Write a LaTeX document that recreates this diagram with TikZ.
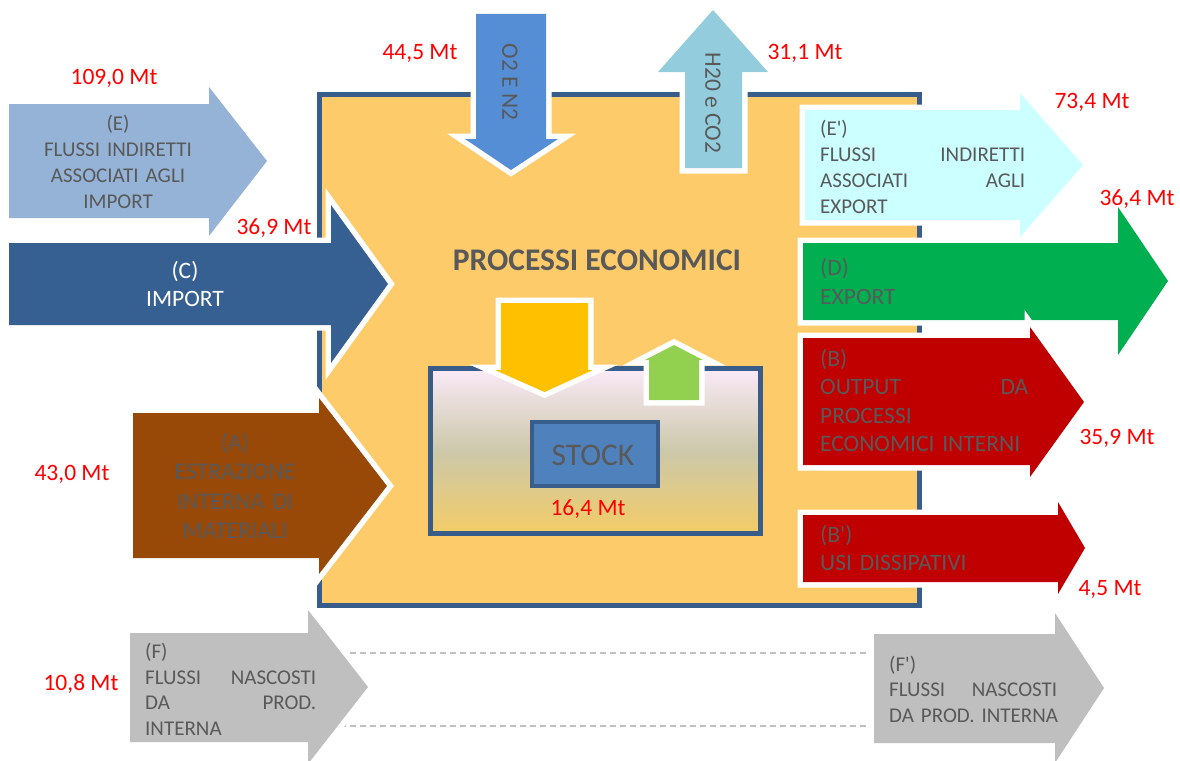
\documentclass[tikz,border=0pt]{standalone}
\usepackage{fontspec}
\setmainfont{Carlito}
\newcommand\fsz[2]{\fontsize{#1pt}{#2pt}\selectfont}
\newcommand\jline[2]{\leavevmode\hbox to #1{#2}}
\newcommand\apo{\textquotesingle}
\definecolor{boxfill}{RGB}{254,203,106}
\definecolor{boxline}{RGB}{56,93,138}
\definecolor{cE}{RGB}{149,179,215}
\definecolor{cC}{RGB}{55,96,146}
\definecolor{cA}{RGB}{152,72,7}
\definecolor{cF}{RGB}{191,191,191}
\definecolor{cO}{RGB}{85,142,213}
\definecolor{cH}{RGB}{147,205,221}
\definecolor{cEp}{RGB}{204,255,255}
\definecolor{cD}{RGB}{0,176,80}
\definecolor{cB}{RGB}{192,0,0}
\definecolor{cY}{RGB}{255,192,0}
\definecolor{cG}{RGB}{146,208,80}
\definecolor{cS}{RGB}{79,129,189}
\definecolor{tgray}{RGB}{89,89,89}
\definecolor{lred}{RGB}{255,0,0}
\definecolor{dgray}{RGB}{192,192,192}
\definecolor{stTop}{RGB}{250,234,248}
\definecolor{stMid}{RGB}{204,200,170}
\definecolor{stBot}{RGB}{243,204,102}
\begin{document}
\begin{tikzpicture}[x=1pt,y=-1pt,
  flow/.style={preaction={draw=white,line width=11pt,miter limit=10},fill=#1},
  lbl/.style={font=\fsz{23.5}{28},text=lred,anchor=base,inner sep=0pt},
  blockc/.style={anchor=base,text width=260pt,align=center,inner sep=0pt},
  blockl/.style={anchor=base west,text width=280pt,align=left,inner sep=0pt},
  rot/.style={rotate=-90,font=\fsz{23.5}{28},text=tgray,inner sep=0pt}]
\useasboundingbox (0,0) rectangle (1180,760);

% main box
\draw[fill=boxfill,draw=boxline,line width=5pt] (319.5,94.5) rectangle (919.5,605.5);

% dashed connectors between F and F'
\coordinate (fa1) at (340,653);
\coordinate (fa2) at (340,726);
\coordinate (fb1) at (874,653);
\coordinate (fb2) at (874,726);
\draw[dgray,line width=1.5pt,dash pattern=on 6pt off 4pt] (fa1) -- (fb1);
\draw[dgray,line width=1.5pt,dash pattern=on 6pt off 4pt] (fa2) -- (fb2);

% left arrows
\path[flow=cE] (9,104) -- (209,104) -- (209,87) -- (267,161) -- (209,236) -- (209,218) -- (9,218) -- cycle;
\path[flow=cC] (9,243) -- (331,243) -- (331,205) -- (388,284) -- (331,363) -- (331,325) -- (9,325) -- cycle;
\path[flow=cA] (133,413) -- (319,413) -- (319,398) -- (387,486) -- (319,574) -- (319,558) -- (133,558) -- cycle;
\path[flow=cF] (130,633) -- (308,633) -- (308,610) -- (368,687) -- (308,764) -- (308,742) -- (130,742) -- cycle;
\path[flow=cF] (874,634) -- (1055,634) -- (1055,613) -- (1104,688) -- (1055,763) -- (1055,743) -- (874,743) -- cycle;

% top arrows
\path[flow=cO] (476,14) -- (546,14) -- (546,139) -- (558,139) -- (511,170) -- (465,139) -- (476,139) -- cycle;
\path[flow=cH] (685,168) -- (685,72) -- (658,72) -- (713,10) -- (768,72) -- (742,72) -- (742,168) -- cycle;

% right arrows
\path[flow=cEp] (805,110) -- (1020,110) -- (1020,93) -- (1083,165) -- (1020,237) -- (1020,220) -- (805,220) -- cycle;
\path[flow=cD] (803,243) -- (1118,243) -- (1118,207) -- (1168,281) -- (1118,355) -- (1118,320) -- (803,320) -- cycle;
\path[flow=cB] (803,338) -- (1030,338) -- (1030,327) -- (1084,402) -- (1030,477) -- (1030,465) -- (803,465) -- cycle;
\path[flow=cB] (803,515) -- (1058,515) -- (1058,502) -- (1085,548) -- (1058,594) -- (1058,582) -- (803,582) -- cycle;

% stock container
\draw[draw=boxline,line width=5pt,top color=stTop,bottom color=stBot,middle color=stMid] (430.5,368.5) rectangle (760.5,533.5);
\path[flow=cY] (501,303) -- (588,303) -- (588,370) -- (593,370) -- (544.5,392) -- (495,370) -- (501,370) -- cycle;
\path[flow=cG] (649,400) -- (649,360) -- (645,360) -- (674,345) -- (703,360) -- (699,360) -- (699,400) -- cycle;
\draw[fill=cS,draw=boxline,line width=4pt] (532,422) rectangle (658,486);

% texts
\node (title) [anchor=base,font=\bfseries\fsz{31.5}{36},text=tgray,inner sep=0pt] at (597,270) {PROCESSI ECONOMICI};
\node (stock) [anchor=base,font=\fsz{31.5}{36},text=tgray,inner sep=0pt] at (593,465) {STOCK};

\node (tE) [blockc,font=\fsz{21}{26},text=tgray] at (118,130) {(E)\\FLUSSI INDIRETTI\\ASSOCIATI AGLI\\IMPORT};
\node (tC) [blockc,font=\fsz{23.5}{28.5},text=white] at (185,278) {(C)\\IMPORT};
\node (tA) [blockc,font=\fsz{24}{29.3},text=tgray] at (235,450.5) {(A)\\ESTRAZIONE\\INTERNA DI\\MATERIALI};
\node (tF) [blockl,font=\fsz{21}{25.5},text=tgray] at (145,658.5) {(F)\\\jline{171pt}{FLUSSI\hfill NASCOSTI}\\\jline{171pt}{DA\hfill PROD.}\\INTERNA};
\node (tFp) [blockl,font=\fsz{21}{25.5},text=tgray] at (889,671) {(F\apo)\\\jline{168pt}{FLUSSI\hfill NASCOSTI}\\DA PROD. INTERNA};
\node (tEp) [blockl,font=\fsz{21}{26},text=tgray] at (820,135) {(E\apo)\\\jline{205pt}{FLUSSI\hfill INDIRETTI}\\\jline{205pt}{ASSOCIATI\hfill AGLI}\\EXPORT};
\node (tD) [blockl,font=\fsz{23.5}{29},text=tgray] at (820,275.6) {(D)\\EXPORT};
\node (tB) [blockl,font=\fsz{23.5}{28.5},text=tgray] at (820,366) {(B)\\\jline{208pt}{OUTPUT\hfill DA}\\PROCESSI\\ECONOMICI INTERNI};
\node (tBp) [blockl,font=\fsz{23.5}{28},text=tgray] at (820,542.5) {(B\apo)\\USI DISSIPATIVI};

\node (tO) [rot] at (510,82) {O2 E N2};
\node (tH) [rot] at (713,103) {H20 e CO2};

% red labels
\node (l1) [lbl] at (114,84.5) {109,0 Mt};
\node (l2) [lbl] at (274,234.5) {36,9 Mt};
\node (l3) [lbl] at (420,59.5) {44,5 Mt};
\node (l4) [lbl] at (805,59.5) {31,1 Mt};
\node (l5) [lbl] at (1092,108.5) {73,4 Mt};
\node (l6) [lbl] at (1137,205.5) {36,4 Mt};
\node (l7) [lbl] at (1117,444.5) {35,9 Mt};
\node (l8) [lbl] at (1110,595.5) {4,5 Mt};
\node (l9) [lbl] at (72,480.5) {43,0 Mt};
\node (l10) [lbl] at (81,690.5) {10,8 Mt};
\node (l11) [lbl] at (588,515.5) {16,4 Mt};
\end{tikzpicture}
\end{document}
